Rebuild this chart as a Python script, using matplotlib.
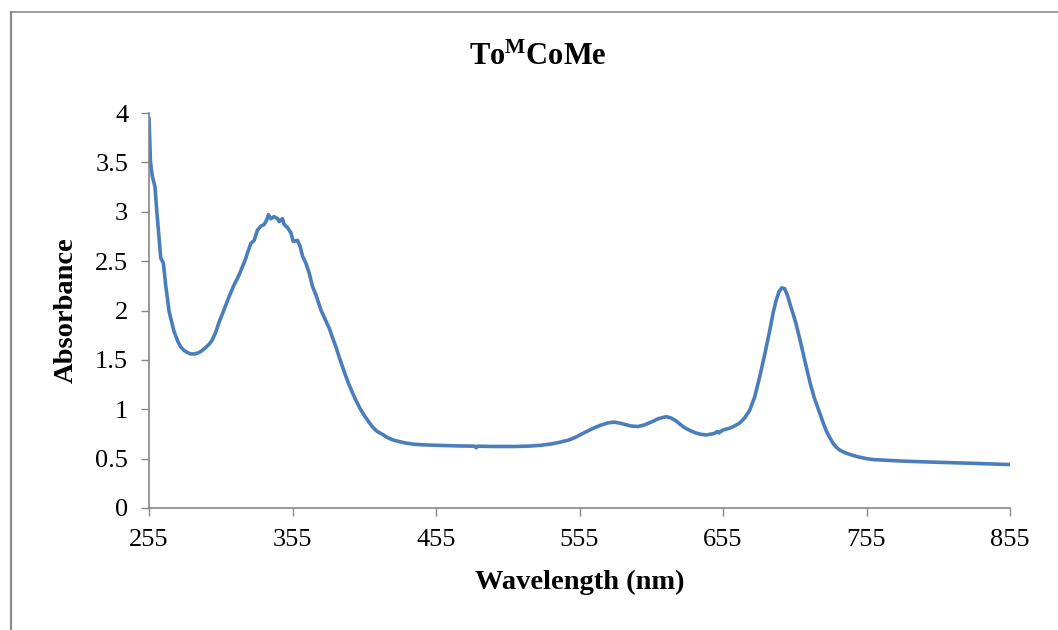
import matplotlib
matplotlib.use('Agg')
import matplotlib.pyplot as plt
from matplotlib.lines import Line2D
from matplotlib.ticker import FuncFormatter

# UV-vis spectrum
wavelength = [255, 256, 257.3, 259.2, 260.3, 262, 263.2, 265, 266.6, 269, 272.4,
              275, 277.1, 279.5, 281.7, 284, 287, 290, 292.5, 294.5, 297, 299,
              301.5, 303.8, 306, 310.8, 314, 317.8, 320, 322.5, 324, 326,
              328.3, 330.6, 333, 335.2, 337.1, 338.2, 339.9, 342.2, 344.5, 345.7,
              348, 349.2, 351.5, 353.8, 355.5, 358.5, 360.3, 362, 364.3, 366.6, 369,
              371.3, 374.8, 377.5, 380.6, 383, 385.3, 387.5, 389.9, 392, 394.5, 397,
              399.2, 402, 404.9, 408, 410.8, 414, 417.8, 421, 424.8, 430, 435, 440,
              445.7, 455, 470, 482, 483, 484, 495, 510, 520, 528, 535, 541, 548,
              552, 556, 560, 565, 570, 575, 579, 583, 587, 591, 595.7, 600, 605,
              610, 615.5, 619, 622, 625, 628, 632, 636, 640, 643.5, 647, 649, 651,
              652, 655, 660, 663, 666.6, 670, 673.6, 677, 680.6, 684, 687.6, 690,
              692, 694, 696, 698, 700, 702, 704, 706, 709.5, 713, 716, 718.5, 722.4,
              725, 727, 729.5, 731.7, 734, 736, 738.5, 741, 745, 750, 755, 760,
              780, 800, 830, 855]
absorbance = [3.95, 3.51, 3.36, 3.25, 3.03, 2.73, 2.53, 2.48, 2.26, 1.99, 1.79,
              1.69, 1.63, 1.595, 1.575, 1.56, 1.56, 1.575, 1.60, 1.625, 1.66, 1.70,
              1.78, 1.88, 1.96, 2.14, 2.25, 2.36, 2.44, 2.53, 2.60, 2.68,
              2.71, 2.815, 2.855, 2.87, 2.92, 2.97, 2.93, 2.95, 2.93, 2.90,
              2.93, 2.87, 2.84, 2.79, 2.70, 2.71, 2.65, 2.55, 2.48, 2.38, 2.24,
              2.16, 2.005, 1.92, 1.82, 1.72, 1.63, 1.53, 1.43, 1.34, 1.245, 1.16,
              1.09, 1.01, 0.94, 0.875, 0.82, 0.775, 0.745, 0.715, 0.69, 0.67, 0.655, 0.645,
              0.64, 0.635, 0.629, 0.626, 0.61, 0.626, 0.623, 0.623, 0.627, 0.635, 0.648, 0.665, 0.69,
              0.715, 0.745, 0.775, 0.81, 0.84, 0.862, 0.87, 0.86, 0.845, 0.83, 0.825, 0.84, 0.87,
              0.905, 0.925, 0.91, 0.885, 0.85, 0.815, 0.785, 0.76, 0.745, 0.74, 0.75, 0.755, 0.775,
              0.76, 0.79, 0.81, 0.83, 0.86, 0.91, 0.99, 1.12, 1.33, 1.55, 1.80, 1.98,
              2.10, 2.19, 2.23, 2.22, 2.15, 2.05, 1.96, 1.86, 1.65, 1.43, 1.25, 1.12, 0.96,
              0.855, 0.78, 0.71, 0.655, 0.615, 0.59, 0.57, 0.555, 0.535, 0.515, 0.50, 0.49,
              0.475, 0.465, 0.452, 0.44]

xticks = [255, 355, 455, 555, 655, 755, 855]
yticks = [0, 0.5, 1, 1.5, 2, 2.5, 3, 3.5, 4]

plt.rcParams['font.family'] = ['Liberation Serif', 'DejaVu Serif']
plt.rcParams['mathtext.fontset'] = 'custom'
plt.rcParams['mathtext.rm'] = 'Liberation Serif'
plt.rcParams['mathtext.bf'] = 'Liberation Serif:bold'

fig = plt.figure(figsize=(10.58, 6.30), dpi=100)
ax = fig.add_axes([149/1058, 1 - 508/630, (1010 - 149)/1058, (508 - 113)/630])

ax.plot(wavelength, absorbance, color='#4a7ebb', linewidth=2.6,
        solid_joinstyle='round', solid_capstyle='round')

ax.set_xlim(255, 855)
ax.set_ylim(0, 4)
ax.set_xticks(xticks)
ax.set_yticks(yticks)
ax.yaxis.set_major_formatter(FuncFormatter(lambda v, p: '%g' % v))
ax.tick_params(direction='out', length=6, width=1, color='#868686',
               labelsize=19, pad=9)
for side in ['top', 'right']:
    ax.spines[side].set_visible(False)
for side in ['left', 'bottom']:
    ax.spines[side].set_color('#868686')
    ax.spines[side].set_linewidth(1.2)

ax.set_xlabel('Wavelength (nm)', fontsize=20.5, fontweight='bold', labelpad=14)
ax.set_ylabel('Absorbance', fontsize=20.5, fontweight='bold', labelpad=12)
fig.text(538/1058, 1 - 57/630, r'$\mathbf{To^{M}CoMe}$', fontsize=22,
         ha='center', va='center')

# outer chart frame (cropped at right and bottom)
fig.add_artist(Line2D([11/1058, 11/1058], [0, 1 - 11.5/630], transform=fig.transFigure,
                      color='#8c8c8c', linewidth=1.6))
fig.add_artist(Line2D([11/1058, 1], [1 - 11.5/630, 1 - 11.5/630], transform=fig.transFigure,
                      color='#8c8c8c', linewidth=1.2))

fig.savefig('out.png', dpi=100)
